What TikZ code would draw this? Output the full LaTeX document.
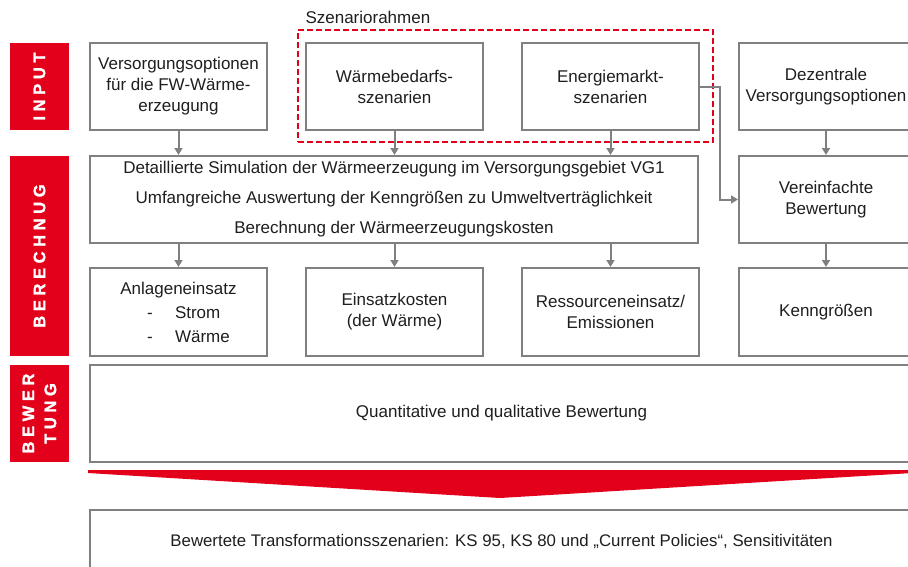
\documentclass[tikz,border=0pt]{standalone}
\usepackage{fontspec}
\setmainfont{Liberation Sans}
\newfontfamily\barfont[LetterSpace=28, FakeBold=1.5]{Liberation Sans Bold}
\usetikzlibrary{arrows.meta}

\definecolor{ifured}{HTML}{E2001A}
\definecolor{linegray}{HTML}{808080}
\definecolor{schrift}{HTML}{1E1E1E}

\tikzset{box/.style={draw=linegray, line width=2pt, text=schrift, align=center,
                     inner sep=0pt, font=\fontsize{17}{21}\selectfont}}
\tikzset{bar/.style={fill=ifured, text=white, rotate=90, inner sep=0pt, align=center,
                     font=\barfont\fontsize{16.5}{22}\selectfont}}
\tikzset{conn/.style={draw=linegray, line width=2pt, ->}}
\tikzset{rahmen/.style={draw=ifured, line width=2pt, dash pattern=on 6pt off 3pt, inner sep=0pt}}

\begin{document}
\begin{tikzpicture}[x=1pt, y=-1pt, >={Triangle[width=8pt,length=7pt]}]

\def\xa{178.5}
\def\xb{394.5}
\def\xc{610.5}
\def\xd{826}
\def\bw{177}
\def\bwd{174}

\def\ya{86.5}
\def\yb{199.5}
\def\yc{312}
\def\yd{413.5}
\def\ye{541}

\useasboundingbox (0,0) rectangle (908,566);

%left bars
\node[bar, minimum width=87,  minimum height=59] (barinput) at (39.5,\ya) {INPUT};
\node[bar, minimum width=200, minimum height=59] (barber)   at (39.5,256) {BERECHNUG};
\node[bar, minimum width=97,  minimum height=59] (barbew)   at (39.5,\yd) {BEWER\\TUNG};

%scenario frame
\node[rahmen, minimum width=415, minimum height=112] (rahmen) at (505.5,86) {};
\node[anchor=west, text=schrift, font=\fontsize{17}{21}\selectfont] (rahmentxt) at (302,17) {Szenariorahmen};

%input row
\node[box, minimum width=\bw, minimum height=87] (verop) at (\xa,\ya)
     {Versorgungsoptionen\\für die FW-Wärme-\\erzeugung};
\node[box, minimum width=\bw, minimum height=87] (wbed) at (\xb,\ya)
     {Wärmebedarfs-\\szenarien};
\node[box, minimum width=\bw, minimum height=87] (emarkt) at (\xc,\ya)
     {Energiemarkt-\\szenarien};
\node[box, minimum width=\bwd, minimum height=87] (dezen) at (\xd,\ya)
     {Dezentrale\\Versorgungsoptionen};

%calculation
\node[box, minimum width=608, minimum height=87, font=\fontsize{17}{30}\selectfont] (simul) at (394,\yb)
     {Detaillierte Simulation der Wärmeerzeugung im Versorgungsgebiet VG1\\
      Umfangreiche Auswertung der Kenngrößen zu Umweltverträglichkeit\\
      Berechnung der Wärmeerzeugungskosten};
\node[box, minimum width=\bwd, minimum height=87] (vereinf) at (\xd,\yb)
     {Vereinfachte\\Bewertung};

%results
\node[box, minimum width=\bw, minimum height=88, font=\fontsize{17}{24}\selectfont] (anlage) at (\xa,\yc)
     {Anlageneinsatz\\
      \makebox[63pt][l]{\makebox[28pt][l]{-}Strom}\\
      \makebox[63pt][l]{\makebox[28pt][l]{-}Wärme}};
\node[box, minimum width=\bw, minimum height=88] (ekost) at (\xb,\yc)
     {Einsatzkosten\\(der Wärme)};
\node[box, minimum width=\bw, minimum height=88] (ress) at (\xc,\yc)
     {Ressourceneinsatz/\\Emissionen};
\node[box, minimum width=\bwd, minimum height=88] (kenn) at (\xd,\yc)
     {Kenngrößen};

%assessment
\node[box, minimum width=823, minimum height=97] (bewert) at (501.5,\yd)
     {Quantitative und qualitative Bewertung};

\fill[ifured] (88,470) -- (912,470) -- (912,473) -- (500,498) -- (88,473) -- cycle;

\node[box, minimum width=823, minimum height=62, font=\fontsize{16.8}{21}\selectfont] (result) at (501.5,\ye)
     {Bewertete Transformationsszenarien: KS 95, KS 80 und „Current Policies“, Sensitivitäten};

%connectors
\draw[conn] (verop.south) -- (verop.south |- simul.north);
\draw[conn] (wbed.south) -- (wbed.south |- simul.north);
\draw[conn] (emarkt.south) -- (emarkt.south |- simul.north);
\draw[conn] (dezen.south) -- (vereinf.north);
\draw[conn] (emarkt.east) -- ++(20,0) |- (vereinf.west);

\draw[conn] (simul.south -| anlage.north) -- (anlage.north);
\draw[conn] (simul.south -| ekost.north) -- (ekost.north);
\draw[conn] (simul.south -| ress.north) -- (ress.north);
\draw[conn] (vereinf.south) -- (kenn.north);

\end{tikzpicture}
\end{document}
